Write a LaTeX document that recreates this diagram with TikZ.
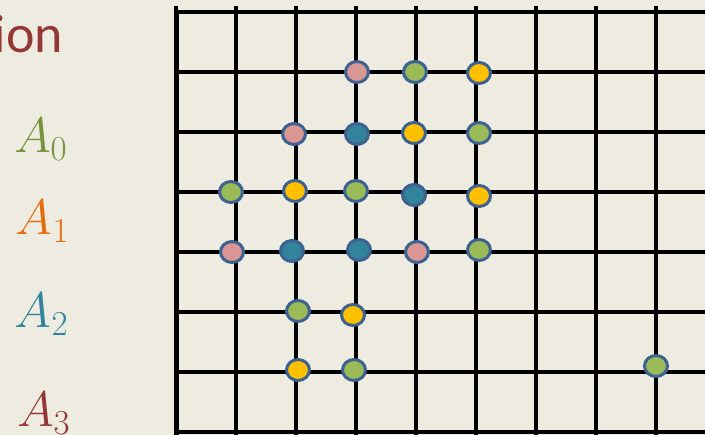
\RequirePackage{fix-cm}
\documentclass[tikz,border=0pt]{standalone}
\usepackage{fontspec}
\newfontfamily\calibri{Carlito}
\usetikzlibrary{shapes.geometric}

\definecolor{paper}{HTML}{EEECE1}
\definecolor{rimblue}{HTML}{3D6191}
\definecolor{dotpink}{HTML}{D99694}
\definecolor{dotgreen}{HTML}{9BBB59}
\definecolor{dotyellow}{HTML}{FFC000}
\definecolor{dotteal}{HTML}{31849B}
\definecolor{lblgreen}{HTML}{77933C}
\definecolor{lblorange}{HTML}{E46C0A}
\definecolor{lblred}{HTML}{953735}

\begin{document}
\begin{tikzpicture}[
    x=1pt, y=-1pt,
    every node/.style={inner sep=0pt, outer sep=0pt},
    gridline/.style={line width=4pt, black},
    dot/.style={ellipse, draw=rimblue, line width=3pt, minimum width=23pt, minimum height=21pt},
    lbl/.style={anchor=base west, font=\fontsize{50}{56}\selectfont}
]

    % ---- page ----
    \fill[paper] (0,0) rectangle (705,435);
    \clip (0,0) rectangle (705,435);

    % ---- labels ----
    \node[anchor=base east, text=lblred, font=\calibri\fontsize{54}{60}\selectfont] (title) at (63,53) {ion};
    \node[lbl, text=lblgreen] (a0) at (14,153) {$A_0$};
    \node[lbl, text=lblorange] (a1) at (16,235) {$A_1$};
    \node[lbl, text=dotteal] (a2) at (15,328) {$A_2$};
    \node[lbl, text=lblred] (a3) at (17,427) {$A_3$};

    % ---- grid ----
    \foreach \y in {12,72,...,432}
        \draw[gridline] (176,\y) -- (712,\y);
    \foreach \x in {176,236,...,656}
        \draw[gridline] (\x,6) -- (\x,440);
    \draw[line width=5pt] (176,10) -- (176,440);

    % ---- row 1 ----
    \node[dot, fill=dotpink]   (p11) at (357,72) {};
    \node[dot, fill=dotgreen]  (p12) at (415,72) {};
    \node[dot, fill=dotyellow] (p13) at (479,73) {};

    % ---- row 2 ----
    \node[dot, fill=dotpink]   (p21) at (294,134) {};
    \node[dot, fill=dotteal]   (p22) at (357,134) {};
    \node[dot, fill=dotyellow] (p23) at (414,133) {};
    \node[dot, fill=dotgreen]  (p24) at (479,133) {};

    % ---- row 3 ----
    \node[dot, fill=dotgreen]  (p31) at (231,192) {};
    \node[dot, fill=dotyellow] (p32) at (295,191) {};
    \node[dot, fill=dotgreen]  (p33) at (356,191) {};
    \node[dot, fill=dotteal]   (p34) at (414,195) {};
    \node[dot, fill=dotyellow] (p35) at (479,196) {};

    % ---- row 4 ----
    \node[dot, fill=dotpink]   (p41) at (232,252) {};
    \node[dot, fill=dotteal]   (p42) at (292,251) {};
    \node[dot, fill=dotteal]   (p43) at (359,250) {};
    \node[dot, fill=dotpink]   (p44) at (417,252) {};
    \node[dot, fill=dotgreen]  (p45) at (479,250) {};

    % ---- rows 5 and 6 ----
    \node[dot, fill=dotgreen]  (p51) at (298,311) {};
    \node[dot, fill=dotyellow] (p52) at (353,315) {};
    \node[dot, fill=dotyellow] (p61) at (298,370) {};
    \node[dot, fill=dotgreen]  (p62) at (354,370) {};
    \node[dot, fill=dotgreen]  (p63) at (656,366) {};

\end{tikzpicture}
\end{document}
